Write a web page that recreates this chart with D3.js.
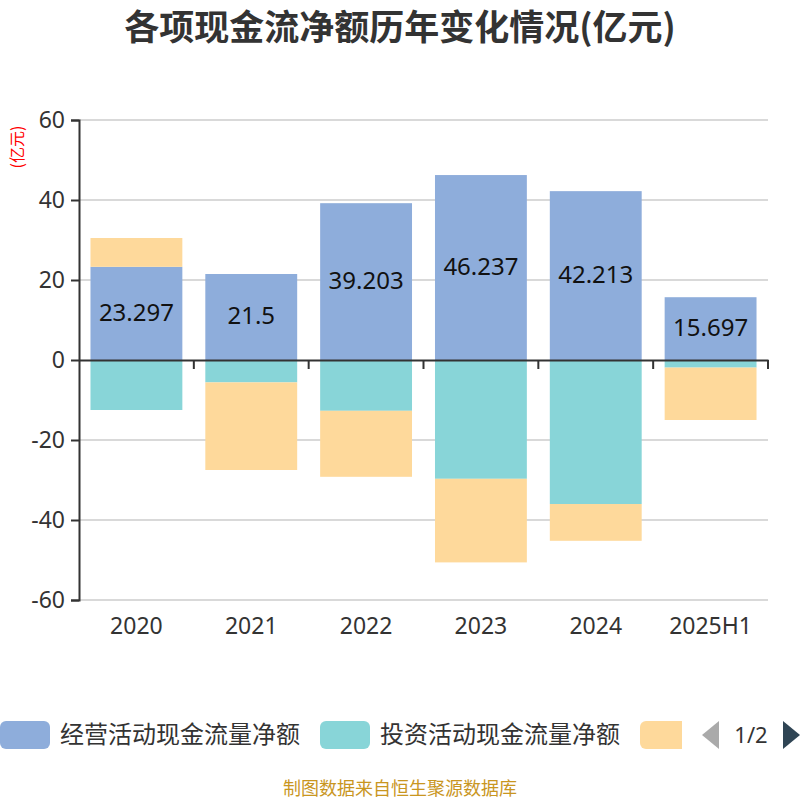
<!DOCTYPE html>
<html>
<head>
<meta charset="utf-8">
<script src="https://cdn.jsdelivr.net/npm/d3@7"></script>
<style>
  body { margin: 0; background: #fff; }
  svg { font-family: "Microsoft YaHei", "Noto Sans CJK SC", sans-serif; }
</style>
</head>
<body>
<svg width="800" height="800"></svg>
<script>
const years = ["2020", "2021", "2022", "2023", "2024", "2025H1"];
const operating = [23.297, 21.5, 39.203, 46.237, 42.213, 15.697];
const investing = [-12.5, -5.6, -12.7, -29.7, -36.0, -1.9];
const financing = [7.2, -21.9, -16.5, -20.9, -9.2, -13.1];
const seriesNames = ["经营活动现金流量净额", "投资活动现金流量净额", "筹资活动现金流量净额"];
const colors = ["#8eaddb", "#88d5d8", "#fed99b"];
const yTicks = [-60, -40, -20, 0, 20, 40, 60];

const svg = d3.select("svg");
const margin = { top: 120, right: 32, bottom: 200, left: 79 };
const width = 800 - margin.left - margin.right;
const height = 800 - margin.top - margin.bottom;
const g = svg.append("g").attr("transform", `translate(${margin.left},${margin.top})`);

const x = d3.scaleBand().domain(years).range([0, width]).paddingInner(0.2).paddingOuter(0.1);
const xb = d3.scaleBand().domain(years).range([0, width]);
const y = d3.scaleLinear().domain([-60, 60]).range([height, 0]);

// title
svg.append("text")
    .attr("x", 400).attr("y", 40)
    .attr("text-anchor", "middle")
    .attr("font-size", "35px")
    .attr("font-weight", "bold")
    .attr("fill", "#333")
    .text("各项现金流净额历年变化情况(亿元)");

// unit label
svg.append("text")
    .attr("transform", "translate(23,147) rotate(-90)")
    .attr("text-anchor", "middle")
    .attr("font-size", "16px")
    .attr("fill", "#f00")
    .text("(亿元)");

// grid
g.append("g")
    .selectAll("line")
    .data(yTicks.filter(d => d !== 0))
    .enter().append("line")
    .attr("x1", 0).attr("x2", width)
    .attr("y1", d => y(d)).attr("y2", d => y(d))
    .attr("stroke", "#ccc").attr("stroke-width", 1.5);

// y axis
const yAxis = g.append("g")
    .call(d3.axisLeft(y).tickValues(yTicks).tickSize(8).tickPadding(6).tickFormat(d => String(d)));
yAxis.select(".domain").attr("stroke", "#333").attr("stroke-width", 2);
yAxis.selectAll(".tick line").attr("stroke", "#333").attr("stroke-width", 2);
yAxis.selectAll(".tick text").attr("font-size", "23px").attr("fill", "#333")
    .attr("font-family", "'Noto Sans', sans-serif");

// stacked bars (positive and negative stacked separately)
const table = years.map((yr, i) => ({ year: yr, vals: [operating[i], investing[i], financing[i]] }));
table.forEach(row => {
    let pos = 0, neg = 0;
    row.vals.forEach((v, s) => {
        let y0, y1;
        if (v >= 0) { y0 = pos; y1 = pos + v; pos = y1; }
        else { y0 = neg; y1 = neg + v; neg = y1; }
        g.append("rect")
            .attr("x", x(row.year))
            .attr("width", x.bandwidth())
            .attr("y", y(Math.max(y0, y1)))
            .attr("height", Math.abs(y(y0) - y(y1)))
            .attr("fill", colors[s]);
    });
});

// labels on operating bars
g.selectAll(".lbl")
    .data(table)
    .enter().append("text")
    .attr("class", "lbl")
    .attr("x", d => x(d.year) + x.bandwidth() / 2)
    .attr("y", d => (y(0) + y(d.vals[0])) / 2)
    .attr("dy", "0.3em")
    .attr("text-anchor", "middle")
    .attr("font-size", "24px")
    .attr("font-family", "'Noto Sans', sans-serif")
    .attr("fill", "#111")
    .text(d => d.vals[0]);

// x axis at zero
const xAxis = g.append("g")
    .attr("transform", `translate(0,${y(0)})`)
    .call(d3.axisBottom(xb).tickSize(0).tickFormat(""));
xAxis.select(".domain").attr("stroke", "#333").attr("stroke-width", 2);
g.append("g")
    .selectAll("line")
    .data(years.slice(1).concat(["end"]))
    .enter().append("line")
    .attr("x1", d => d === "end" ? width : xb(d))
    .attr("x2", d => d === "end" ? width : xb(d))
    .attr("y1", y(0)).attr("y2", y(0) + 9)
    .attr("stroke", "#333").attr("stroke-width", 2);

// x labels at bottom
g.selectAll(".xl")
    .data(years)
    .enter().append("text")
    .attr("class", "xl")
    .attr("x", d => xb(d) + xb.bandwidth() / 2)
    .attr("y", height + 34)
    .attr("text-anchor", "middle")
    .attr("font-size", "23px")
    .attr("font-family", "'Noto Sans', sans-serif")
    .attr("fill", "#333")
    .text(d => d);

// legend (paged: page 1 shows two names, third swatch cut off)
svg.append("clipPath").attr("id", "legclip")
    .append("rect").attr("x", 0).attr("y", 700).attr("width", 682).attr("height", 60);
const leg = svg.append("g").attr("clip-path", "url(#legclip)");
const legX = [0, 320, 640];
seriesNames.forEach((name, i) => {
    leg.append("rect")
        .attr("x", legX[i]).attr("y", 721)
        .attr("width", 50).attr("height", 28)
        .attr("rx", 6)
        .attr("fill", colors[i]);
    if (i < 2) {
        leg.append("text")
            .attr("x", legX[i] + 60).attr("y", 743)
            .attr("font-size", "24px")
            .attr("fill", "#333")
            .text(name);
    }
});
svg.append("path")
    .attr("d", "M702,735 L719,721 L719,749 Z")
    .attr("fill", "#aaa");
svg.append("text")
    .attr("x", 751).attr("y", 743)
    .attr("text-anchor", "middle")
    .attr("font-size", "22px")
    .attr("font-family", "'Noto Sans', sans-serif")
    .attr("fill", "#333")
    .text("1/2");
svg.append("path")
    .attr("d", "M783,721 L800,735 L783,749 Z")
    .attr("fill", "#2f4554");

// footer
svg.append("text")
    .attr("x", 400).attr("y", 795)
    .attr("text-anchor", "middle")
    .attr("font-size", "18px")
    .attr("fill", "#c9961f")
    .text("制图数据来自恒生聚源数据库");
</script>
</body>
</html>
